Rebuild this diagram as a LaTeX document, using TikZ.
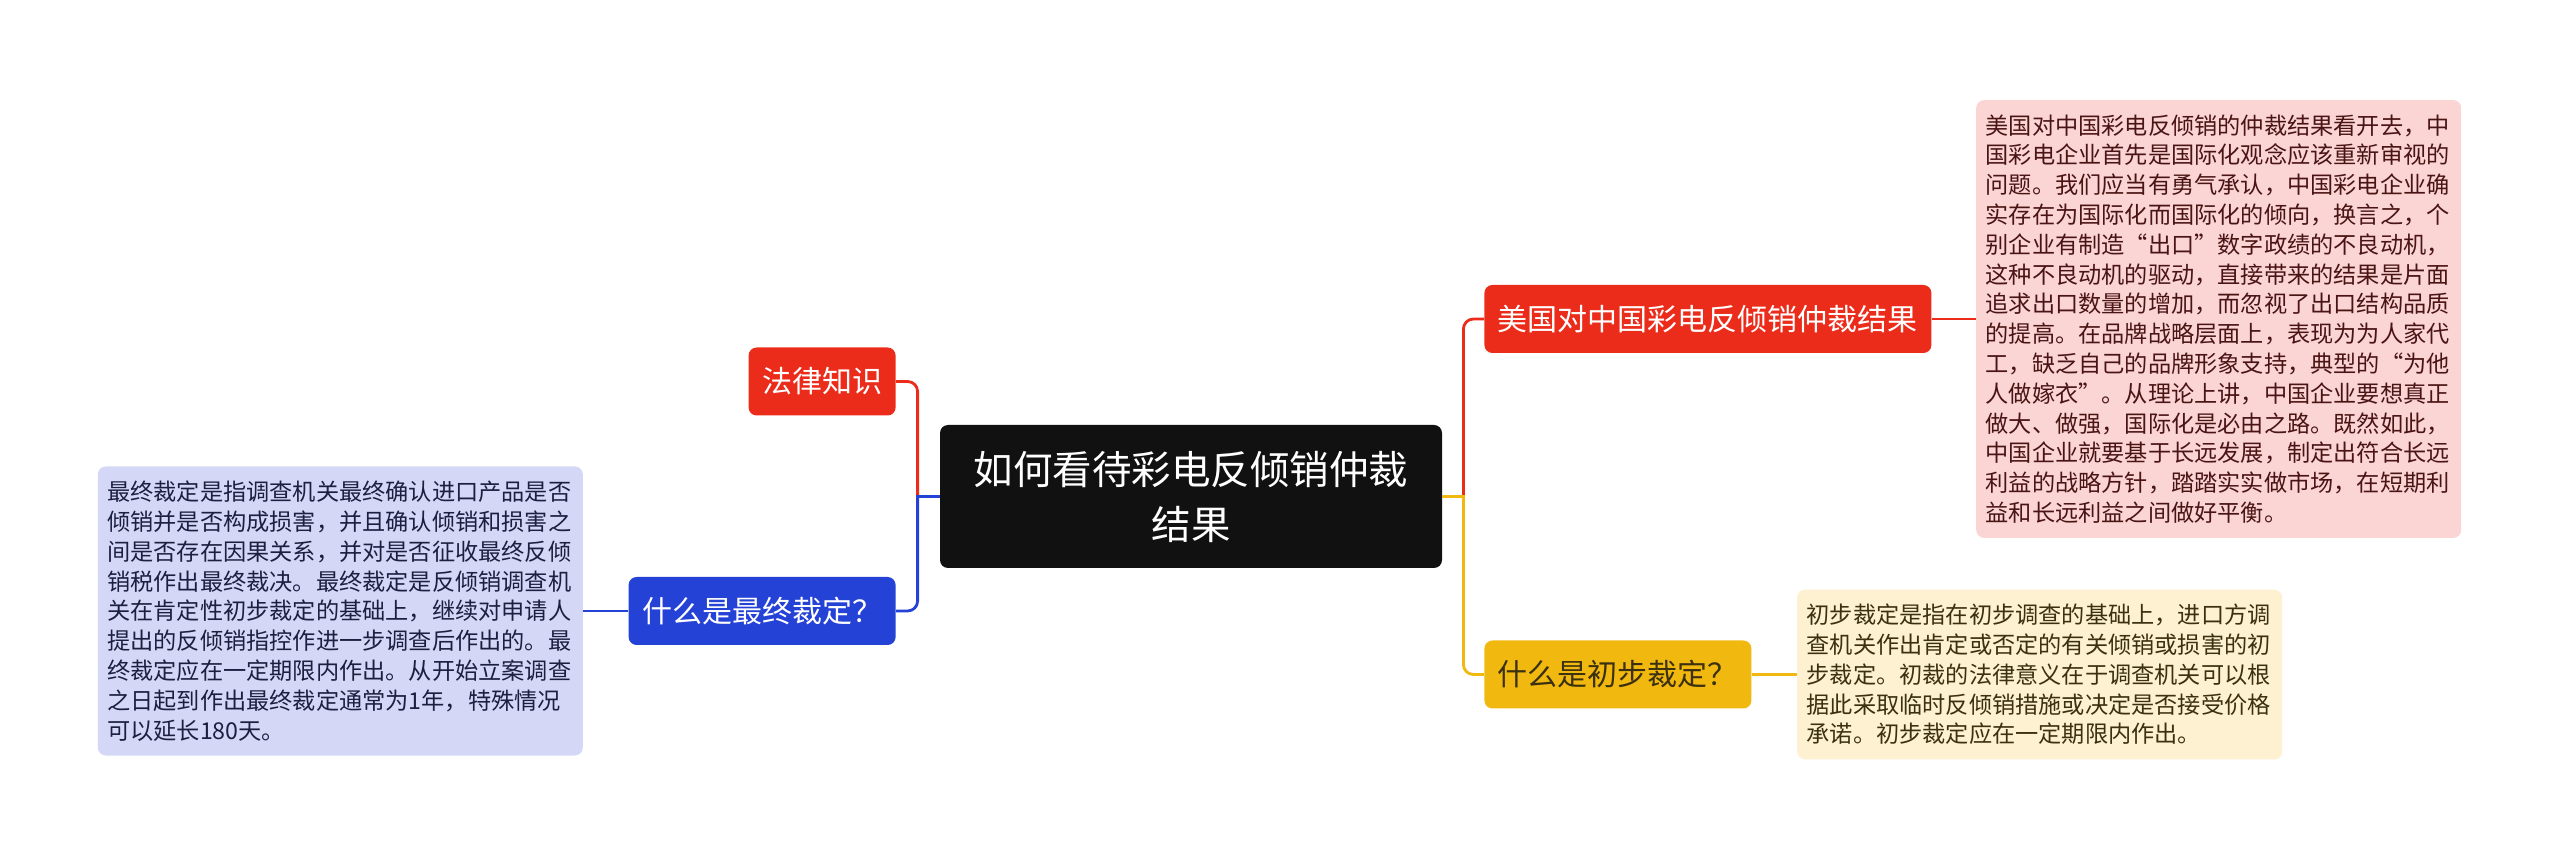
\documentclass[tikz,border=0pt]{standalone}
\usepackage{fontspec}
\newfontfamily\cjk{Noto Sans CJK SC}
\usetikzlibrary{positioning}
\definecolor{mmroot}{HTML}{111111}
\definecolor{mmred}{HTML}{EC2C1B}
\definecolor{mmblue}{HTML}{2542D7}
\definecolor{mmyellow}{HTML}{F1B80F}
\definecolor{notered}{HTML}{FAD5D3}
\definecolor{noteblue}{HTML}{D4D8F6}
\definecolor{noteyellow}{HTML}{FDF1D1}
\definecolor{txtred}{HTML}{4A1414}
\definecolor{txtblue}{HTML}{1C2040}
\definecolor{txtyellow}{HTML}{3B300F}

\begin{document}
\begin{tikzpicture}[x=0.5pt,y=-0.5pt,font=\cjk,
  root/.style={fill=mmroot,text=white,rounded corners=4pt,align=center,
    minimum width=251pt,minimum height=71.5pt,inner sep=0pt,
    font=\cjk\fontsize{19.75}{27.5}\selectfont},
  topic/.style={rounded corners=4pt,minimum height=34pt,inner xsep=6.75pt,inner ysep=0pt,
    font=\cjk\fontsize{15}{18}\selectfont},
  note/.style={rounded corners=4pt,align=left,text width=233pt,inner xsep=4.75pt,inner ysep=7.25pt,
    font=\cjk\fontsize{11.6}{14.9}\selectfont},
  link/.style={line width=1.4pt,rounded corners=5pt}]
  \useasboundingbox (0,0) rectangle (2560,860);
  \node[root] (root) at (1191,496.5) {如何看待彩电反倾销仲裁\\结果};
  % right side
  \node[topic,fill=mmred,text=white,anchor=west] (usa) at (1484,319) {美国对中国彩电反倾销仲裁结果};
  \node[topic,fill=mmyellow,text=txtyellow,anchor=west] (prelim) at (1484,674.5) {什么是初步裁定？};
  \node[note,fill=notered,text=txtred,right=22pt of usa] (usanote) {美国对中国彩电反倾销的仲裁结果看开去，中\\
国彩电企业首先是国际化观念应该重新审视的\\
问题。我们应当有勇气承认，中国彩电企业确\\
实存在为国际化而国际化的倾向，换言之，个\\
别企业有制造“出口”数字政绩的不良动机，\\
这种不良动机的驱动，直接带来的结果是片面\\
追求出口数量的增加，而忽视了出口结构品质\\
的提高。在品牌战略层面上，表现为为人家代\\
工，缺乏自己的品牌形象支持，典型的“为他\\
人做嫁衣”。从理论上讲，中国企业要想真正\\
做大、做强，国际化是必由之路。既然如此，\\
中国企业就要基于长远发展，制定出符合长远\\
利益的战略方针，踏踏实实做市场，在短期利\\
益和长远利益之间做好平衡。};
  \node[note,fill=noteyellow,text=txtyellow,right=22.5pt of prelim] (prelimnote) {初步裁定是指在初步调查的基础上，进口方调\\
查机关作出肯定或否定的有关倾销或损害的初\\
步裁定。初裁的法律意义在于调查机关可以根\\
据此采取临时反倾销措施或决定是否接受价格\\
承诺。初步裁定应在一定期限内作出。};
  % left side
  \node[topic,fill=mmred,text=white,anchor=east] (law) at (896,381.5) {法律知识};
  \node[topic,fill=mmblue,text=white,anchor=east] (final) at (896,611) {什么是最终裁定？};
  \node[note,fill=noteblue,text=txtblue,left=22.5pt of final] (finalnote) {最终裁定是指调查机关最终确认进口产品是否\\
倾销并是否构成损害，并且确认倾销和损害之\\
间是否存在因果关系，并对是否征收最终反倾\\
销税作出最终裁决。最终裁定是反倾销调查机\\
关在肯定性初步裁定的基础上，继续对申请人\\
提出的反倾销指控作进一步调查后作出的。最\\
终裁定应在一定期限内作出。从开始立案调查\\
之日起到作出最终裁定通常为1年，特殊情况\\
可以延长180天。};
  % branches
  \coordinate (jr) at ([xshift=10.5pt]root.east);
  \coordinate (jl) at ([xshift=-11pt]root.west);
  \draw[link,mmred] (jr) |- (usa.west);
  \draw[link,mmyellow] (jr) |- (prelim.west);
  \draw[link,mmyellow] (root.east) -- ([xshift=0.7pt]jr);
  \draw[link,mmred] (jl) |- (law.east);
  \draw[link,mmblue] (jl) |- (final.east);
  \draw[link,mmblue] (root.west) -- ([xshift=-0.7pt]jl);
  \draw[link,mmred] (usa.east) -- (usanote.west);
  \draw[link,mmyellow] (prelim.east) -- (prelimnote.west);
  \draw[link,mmblue] (final.west) -- (finalnote.east);
\end{tikzpicture}
\end{document}
